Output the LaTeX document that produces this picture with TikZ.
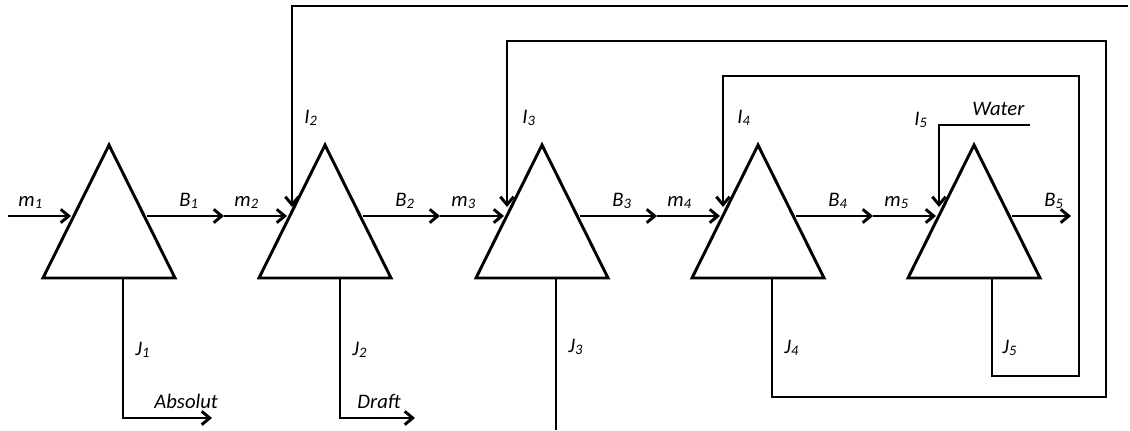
\documentclass[tikz,border=0pt]{standalone}
\usepackage{fontspec}
\setmainfont{Carlito}
\usetikzlibrary{arrows.meta, calc, shapes.geometric}

\begin{document}
\begin{tikzpicture}[x=0.75pt, y=-0.75pt, line width=2.2pt, >={Straight Barb[length=6pt, width=10pt]},
    font=\fontsize{15.5}{18}\selectfont\itshape,
    stage/.style={draw, isosceles triangle, isosceles triangle stretches, shape border rotate=90,
        minimum width=99pt, minimum height=99.75pt, inner sep=0pt, outer sep=0pt, anchor=apex, line join=miter},
    lbl/.style={inner sep=0pt, anchor=base west}]
    \useasboundingbox (0,0) rectangle (1130,430);

    \node[stage] (t1) at (109,145) {};
    \node[stage] (t2) at (325,145) {};
    \node[stage] (t3) at (542,145) {};
    \node[stage] (t4) at (758,145) {};
    \node[stage] (t5) at (974,145) {};

    \coordinate (src) at (8,216);
    \coordinate (in1) at ($(t1.apex)+(-38,71)$);
    \coordinate (out1) at ($(t1.apex)+(38,71)$);
    \coordinate (mid1) at ($(t1.apex)+(115,71)$);
    \coordinate (in2) at ($(t2.apex)+(-38,71)$);
    \coordinate (out2) at ($(t2.apex)+(38,71)$);
    \coordinate (mid2) at ($(t2.apex)+(115,71)$);
    \coordinate (in3) at ($(t3.apex)+(-38,71)$);
    \coordinate (out3) at ($(t3.apex)+(38,71)$);
    \coordinate (mid3) at ($(t3.apex)+(115,71)$);
    \coordinate (in4) at ($(t4.apex)+(-38,71)$);
    \coordinate (out4) at ($(t4.apex)+(38,71)$);
    \coordinate (mid4) at ($(t4.apex)+(115,71)$);
    \coordinate (in5) at ($(t5.apex)+(-38,71)$);
    \coordinate (out5) at ($(t5.apex)+(38,71)$);
    \coordinate (b5end) at ($(t5.apex)+(97,71)$);

    \coordinate (i2) at ($(t2.apex)+(-33,62)$);
    \coordinate (i3) at ($(t3.apex)+(-35,62)$);
    \coordinate (i4) at ($(t4.apex)+(-35,62)$);
    \coordinate (i5) at ($(t5.apex)+(-35,62)$);
    \coordinate (j1) at ($(t1.apex)+(14,133)$);
    \coordinate (j2) at ($(t2.apex)+(15,133)$);
    \coordinate (j3) at ($(t3.apex)+(14,133)$);
    \coordinate (j4) at ($(t4.apex)+(14,133)$);
    \coordinate (j5) at ($(t5.apex)+(18,133)$);

    \coordinate (absolut) at (212,418);
    \coordinate (draft) at (415,418);
    \coordinate (j3end) at (556,430);
    \coordinate (feed2) at (1128,6);
    \coordinate (water) at (1030,125);

    \draw[->] (src) -- (in1);
    \draw[->] (out1) -- (mid1);
    \draw[->] (mid1) -- (in2);
    \draw[->] (out2) -- (mid2);
    \draw[->] (mid2) -- (in3);
    \draw[->] (out3) -- (mid3);
    \draw[->] (mid3) -- (in4);
    \draw[->] (out4) -- (mid4);
    \draw[->] (mid4) -- (in5);
    \draw[->] (out5) -- (b5end);

    \draw[->] (j1) |- (absolut);
    \draw[->] (j2) |- (draft);
    \draw (j3) -- (j3end);
    \draw[->] (j4) |- (1106,397) |- (507,41) -- (i3);
    \draw[->] (j5) |- (1079,376) |- (723,76) -- (i4);
    \draw[->] (feed2) -| (i2);
    \draw[->] (water) -| (i5);

    \node[lbl] (lm1) at (17,206) {m\textsubscript{1}};
    \node[lbl] (lb1) at (178,206) {B\textsubscript{1}};
    \node[lbl] (lm2) at (233,206) {m\textsubscript{2}};
    \node[lbl] (lb2) at (394,206) {B\textsubscript{2}};
    \node[lbl] (lm3) at (450,206) {m\textsubscript{3}};
    \node[lbl] (lb3) at (611,206) {B\textsubscript{3}};
    \node[lbl] (lm4) at (666,206) {m\textsubscript{4}};
    \node[lbl] (lb4) at (827,206) {B\textsubscript{4}};
    \node[lbl] (lm5) at (883,206) {m\textsubscript{5}};
    \node[lbl] (lb5) at (1043,206) {B\textsubscript{5}};

    \node[lbl] (li2) at (303,123) {I\textsubscript{2}};
    \node[lbl] (li3) at (521,123) {I\textsubscript{3}};
    \node[lbl] (li4) at (736,123) {I\textsubscript{4}};
    \node[lbl] (li5) at (913,125) {I\textsubscript{5}};
    \node[lbl] (lwater) at (971,115) {Water};

    \node[lbl] (lj1) at (134,355) {J\textsubscript{1}};
    \node[lbl] (lj2) at (351,355) {J\textsubscript{2}};
    \node[lbl] (lj3) at (567,352) {J\textsubscript{3}};
    \node[lbl] (lj4) at (783,353) {J\textsubscript{4}};
    \node[lbl] (lj5) at (1001,353) {J\textsubscript{5}};
    \node[lbl] (labsolut) at (153,408) {Absolut};
    \node[lbl] (ldraft) at (356,408) {Draft};
\end{tikzpicture}
\end{document}
